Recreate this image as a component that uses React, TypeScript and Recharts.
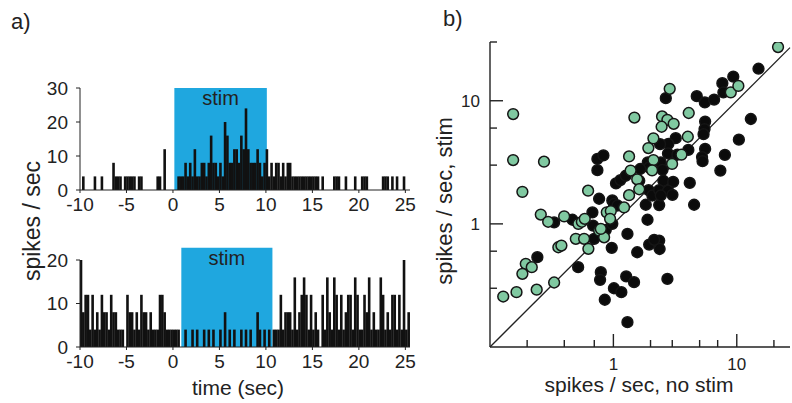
import { BarChart, Bar, XAxis, YAxis, ReferenceArea, ScatterChart, Scatter, ReferenceLine } from "recharts";

const INK = "#222";
const STIM_BLUE = "#1fa7df";
const GREEN = "#80c9a1";

// PSTH, 0.25 s bins from -10 s to 25.5 s (spikes / sec)
const topRates = [
  0, 4, 0, 0, 0, 0, 4, 0, 0, 4, 0, 0, 0, 0, 8, 4, 4, 4, 0, 4,
  4, 4, 4, 4, 0, 4, 4, 0, 0, 0, 0, 0, 0, 4, 4, 0, 12, 0, 0, 0,
  0, 0, 4, 4, 4, 8, 4, 8, 4, 12, 4, 4, 8, 8, 4, 8, 16, 8, 8, 4,
  8, 4, 20, 16, 8, 8, 12, 12, 8, 16, 12, 24, 12, 8, 8, 8, 12, 8, 4, 8,
  12, 4, 8, 4, 8, 8, 4, 8, 4, 8, 8, 4, 4, 4, 4, 4, 4, 4, 4, 4,
  4, 4, 4, 0, 4, 0, 0, 0, 0, 4, 4, 4, 0, 0, 4, 0, 0, 0, 4, 0,
  0, 4, 4, 4, 0, 0, 0, 0, 0, 0, 4, 4, 4, 0, 4, 0, 4, 0, 0, 4,
  0, 0,
];

const bottomRates = [
  20, 8, 12, 12, 4, 12, 4, 8, 4, 12, 8, 8, 4, 12, 8, 8, 4, 4, 4, 0,
  12, 8, 8, 4, 8, 4, 12, 8, 8, 4, 8, 4, 4, 4, 12, 12, 8, 4, 4, 4,
  4, 4, 4, 0, 0, 4, 0, 0, 4, 0, 4, 0, 0, 4, 0, 4, 0, 4, 0, 0,
  4, 0, 8, 0, 4, 0, 4, 0, 0, 4, 0, 4, 0, 4, 0, 0, 8, 4, 0, 4,
  0, 4, 0, 4, 4, 4, 12, 4, 8, 8, 8, 4, 16, 4, 8, 12, 16, 12, 4, 12,
  4, 8, 4, 0, 12, 4, 16, 8, 4, 16, 12, 4, 12, 4, 8, 12, 12, 4, 16, 12,
  4, 4, 12, 8, 16, 4, 8, 4, 4, 16, 12, 4, 8, 4, 12, 12, 4, 12, 4, 20,
  4, 8,
];

const timeTicks = [-10, -5, 0, 5, 10, 15, 20, 25];

// scatter: [no stim, stim] spikes/sec
const blackCells: [number, number][] = [
  [2.66, 10.5], [4.74, 10.9], [5.51, 9.69], [6.55, 10.2], [7.64, 13.9], [9.37, 15.7], [7.79, 11.7],
  [15.0, 18.2], [13.0, 7.11], [10.4, 4.83], [8.01, 3.63], [7.36, 2.71], [5.54, 6.78], [5.48, 5.89],
  [5.38, 5.35], [5.54, 4.06], [5.23, 3.49], [5.28, 3.23], [4.05, 3.99], [4.16, 2.15], [3.2, 4.97],
  [2.79, 4.46], [2.39, 4.44], [2.77, 3.73], [3.3, 3.65], [2.42, 3.16], [1.9, 3.16], [1.95, 2.88],
  [1.65, 2.79], [2.5, 2.75], [2.54, 2.24], [3.05, 2.19], [1.62, 2.24], [1.05, 2.13], [1.14, 2.27],
  [1.26, 2.46], [0.742, 3.37], [0.83, 3.6], [0.742, 2.73], [0.766, 1.6], [0.98, 1.55], [1.93, 1.88],
  [2.07, 1.7], [2.35, 1.88], [2.77, 1.86], [3.01, 1.72], [0.331, 1.03], [0.466, 1.08], [0.242, 0.536],
  [0.518, 0.445], [0.676, 1.24], [0.685, 0.969], [0.698, 0.756], [0.868, 0.894], [0.98, 1.0],
  [1.01, 1.45], [1.08, 1.41], [0.97, 0.639], [1.3, 0.829], [1.56, 0.588], [0.791, 0.405],
  [0.78, 0.351], [1.27, 0.374], [1.47, 0.336], [1.01, 0.3], [1.16, 0.279], [0.852, 0.242],
  [1.3, 0.159], [1.95, 0.679], [2.35, 0.732], [2.37, 0.625], [2.74, 0.357], [1.89, 1.08],
  [1.83, 1.43], [2.35, 1.42], [2.42, 1.7], [4.51, 1.43], [2.14, 0.742],
];

const greenCells: [number, number][] = [
  [0.154, 7.8], [0.154, 3.3], [0.274, 3.2], [0.183, 1.82], [1.48, 7.3], [2.86, 12.5], [2.48, 7.46],
  [2.74, 7.0], [3.08, 6.5], [2.46, 6.15], [4.08, 7.95], [4.01, 5.1], [2.11, 4.95], [1.92, 4.13],
  [3.56, 3.65], [2.99, 3.07], [2.11, 3.3], [1.34, 3.53], [1.38, 2.71], [2.06, 2.72], [1.56, 2.3],
  [1.62, 1.91], [1.34, 1.71], [0.624, 1.86], [21.6, 27.3], [8.94, 11.7], [10.3, 13.2],
  [0.258, 1.19], [0.296, 1.04], [0.399, 1.15], [0.52, 1.0], [0.555, 1.04], [0.586, 1.1],
  [0.496, 0.756], [0.579, 0.756], [0.358, 0.646], [0.379, 0.667], [0.195, 0.474], [0.218, 0.445],
  [0.183, 0.393], [0.128, 0.257], [0.164, 0.279], [0.239, 0.292], [0.331, 0.334], [0.627, 0.627],
  [0.766, 0.882], [0.841, 0.778], [0.884, 1.24], [0.953, 1.27], [0.94, 1.1], [1.22, 1.36],
  [0.791, 0.911],
];

const logXTicks = [0.2, 0.3, 0.4, 0.5, 0.6, 0.7, 0.8, 0.9, 1, 2, 3, 4, 5, 6, 7, 8, 9, 10, 20];
const logYTicks = [0.2, 0.3, 0.4, 0.5, 0.6, 0.7, 0.8, 0.9, 1, 2, 3, 4, 5, 6, 7, 8, 9, 10, 20, 30];

const toBins = (rates: number[]) =>
  rates.map((rate, i) => ({ t: -10 + i * 0.25 + 0.125, rate }));

const isMajor = (v: number) => v === 1 || v === 10;

const LogXTick = (props: any) => {
  const { x, y, payload } = props;
  const v = payload.value;
  return (
    <g>
      <line x1={x} x2={x} y1={y} y2={y - (isMajor(v) ? 13 : 7)} stroke={INK} strokeWidth={1.4} />
      {isMajor(v) && (
        <text x={x} y={y + 23} textAnchor="middle" fontSize={17} fill={INK}>
          {v}
        </text>
      )}
    </g>
  );
};

const LogYTick = (props: any) => {
  const { x, y, payload } = props;
  const v = payload.value;
  return (
    <g>
      <line x1={x} x2={x + (isMajor(v) ? 13 : 7)} y1={y} y2={y} stroke={INK} strokeWidth={1.4} />
      {isMajor(v) && (
        <text x={x - 10} y={y + 6} textAnchor="end" fontSize={17} fill={INK}>
          {v}
        </text>
      )}
    </g>
  );
};

const Dot = (fill: string) => (props: any) => (
  <circle cx={props.cx} cy={props.cy} r={5.4} fill={fill} stroke="#151515" strokeWidth={1.5} />
);

// fixed-width spike bar centred on the bin
const SpikeBar = (props: any) => {
  const { x, y, width, height } = props;
  if (!height || height <= 0) return <g />;
  return <rect x={x + width / 2 - 1.3} y={y} width={2.6} height={height} fill="#111" />;
};

function Psth({ rates, height, top, bottom, yMax, yTicks, stim }: any) {
  return (
    <BarChart
      width={440}
      height={height}
      data={toBins(rates)}
      margin={{ top, right: 30, bottom, left: 40 }}
      barCategoryGap={0}
    >
      <XAxis
        type="number"
        dataKey="t"
        domain={[-10, 25.5]}
        ticks={timeTicks}
        allowDataOverflow
        height={25}
        tickSize={3}
        tickMargin={5}
        stroke={INK}
        tick={{ fontSize: 19, fill: INK }}
      />
      <YAxis
        type="number"
        domain={[0, yMax]}
        ticks={yTicks}
        allowDataOverflow
        width={40}
        tickSize={4}
        tickMargin={8}
        stroke={INK}
        tick={{ fontSize: 19, fill: INK }}
      />
      <ReferenceArea
        x1={stim[0]}
        x2={stim[1]}
        y1={0}
        y2={stim[2]}
        ifOverflow="visible"
        fill={STIM_BLUE}
        fillOpacity={1}
        stroke="none"
        label={{ value: "stim", position: "insideTop", offset: 3, fontSize: 20, fill: INK }}
      />
      <Bar dataKey="rate" fill="#111" shape={SpikeBar} isAnimationActive={false} />
    </BarChart>
  );
}

export default function App() {
  const black = blackCells.map(([x, y]) => ({ x, y }));
  const green = greenCells.map(([x, y]) => ({ x, y }));
  return (
    <div
      style={{
        position: "fixed",
        left: 0,
        top: 0,
        width: 792,
        height: 403,
        overflow: "hidden",
        background: "#fff",
        fontFamily: "'Liberation Sans', Arial, sans-serif",
      }}
    >
      <div style={{ position: "absolute", left: 0, top: 0 }}>
        <Psth rates={topRates} height={215} top={88} bottom={0} yMax={30} yTicks={[0, 10, 20, 30]} stim={[0.15, 10.1, 30]} />
      </div>
      <div style={{ position: "absolute", left: 0, top: 0 }}>
        <Psth rates={bottomRates} height={380} top={260} bottom={8} yMax={20} yTicks={[0, 10, 20]} stim={[0.9, 10.7, 22.8]} />
      </div>
      <div style={{ position: "absolute", left: 0, top: 0 }}>
        <ScatterChart width={792} height={403} margin={{ top: 42, right: 2, bottom: 16, left: 430 }}>
          <XAxis
            type="number"
            dataKey="x"
            scale="log"
            domain={[0.1, 27]}
            allowDataOverflow
            ticks={logXTicks}
            height={40}
            tickSize={0}
            tickMargin={0}
            stroke={INK}
            strokeWidth={1.4}
            tick={LogXTick}
          />
          <YAxis
            type="number"
            dataKey="y"
            scale="log"
            domain={[0.1, 30]}
            allowDataOverflow
            ticks={logYTicks}
            width={60}
            tickSize={0}
            tickMargin={0}
            stroke={INK}
            strokeWidth={1.4}
            tick={LogYTick}
          />
          <ReferenceLine
            segment={[{ x: 0.1, y: 0.1 }, { x: 27, y: 27 }]}
            stroke={INK}
            strokeWidth={1.3}
            ifOverflow="visible"
          />
          <Scatter data={black} shape={Dot("#0b0b0b")} isAnimationActive={false} />
          <Scatter data={green} shape={Dot(GREEN)} isAnimationActive={false} />
        </ScatterChart>
      </div>
      <svg style={{ position: "absolute", left: 0, top: 0 }} width={792} height={403}>
        <text x={11} y={29} fontSize={22} fill={INK}>a)</text>
        <text x={443} y={26} fontSize={22} fill={INK}>b)</text>
        <text x={40} y={221} fontSize={23} fill={INK} textAnchor="middle" transform="rotate(-90, 40, 221)">
          spikes / sec
        </text>
        <text x={238} y={395} fontSize={21} fill={INK} textAnchor="middle">time (sec)</text>
        <text x={639} y={392} fontSize={21} fill={INK} textAnchor="middle">spikes / sec, no stim</text>
        <text x={452} y={201} fontSize={22} fill={INK} textAnchor="middle" transform="rotate(-90, 452, 201)">
          spikes / sec, stim
        </text>
      </svg>
    </div>
  );
}
